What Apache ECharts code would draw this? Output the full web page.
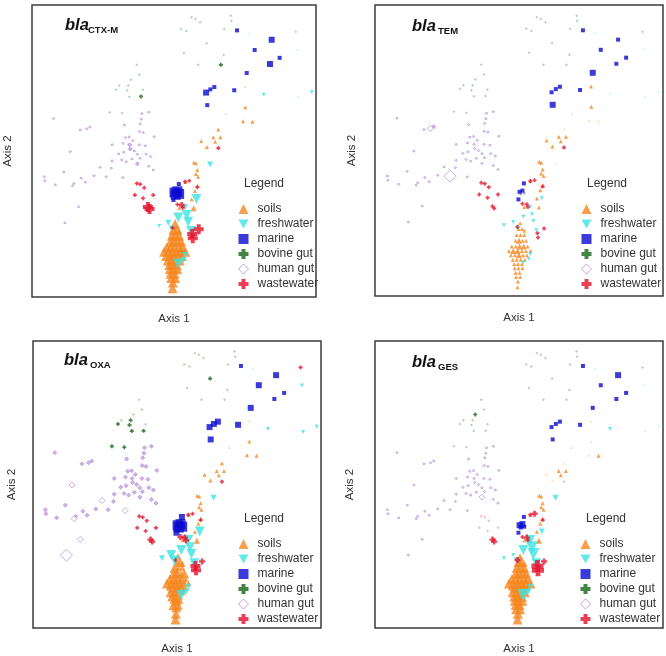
<!DOCTYPE html>
<html>
<head>
<meta charset="utf-8">
<script src="https://cdn.jsdelivr.net/npm/echarts@6.0.0/dist/echarts.min.js"></script>
<style>
html,body{margin:0;padding:0;background:#fff;}
#chart{width:666px;height:656px;}
</style>
</head>
<body>
<div id="chart"></div>
<script>
// ---------- shared ordination coordinates (Axis 1, Axis 2 scaled 0-100) ----------
const soilsXY = [
  [75.0,72.0],[75.1,65.0],[68.2,62.8],[74.3,60.2],[77.6,60.0],[65.6,57.4],[66.3,54.7],[63.8,54.7],[64.5,53.2],[59.6,53.4],
  [61.6,51.4],[57.0,46.1],[57.7,45.8],[58.2,43.5],[57.7,42.1],[58.5,41.2],[54.0,39.4],[58.3,38.1],[57.4,36.3],[56.2,33.5],
  [56.9,30.4],[51.9,30.6],[51.9,22.4],
  [50.4,25],[49.8,23],[51.0,23],[49.2,21],[50.5,21],[51.8,21],[48.8,19],[50.0,19],[51.3,19],[52.5,19],
  [47.5,17],[48.9,17],[50.2,17],[51.6,17],[53.0,17],[46.5,15.5],[48.0,15.5],[49.5,15.5],[51.0,15.5],[52.4,15.5],
  [54.0,15.5],[47.2,14],[48.6,14],[50.0,14],[51.4,14],[52.8,14],[47.8,12.5],[49.2,12.5],[50.6,12.5],[52.0,12.5],
  [48.3,11],[49.6,11],[51.0,11],[48.5,9.5],[49.8,9.5],[51.2,9.5],[48.8,8],[50.2,8],[49.0,6.5],[50.4,6.5],
  [49.6,5],[49.5,3]
];
const freshXY = [
  [76.4,90.1],[93.4,84.5],[81.6,69.3],[98.5,70.1],[93.8,68.3],[62.7,45.4],[57.9,33.6],[53.9,30.7],[54.5,28.1],[51.5,27.2],
  [55.0,25.8],[48.0,25.4],[44.8,24.3],[49.2,23.5],[56.0,22.6],[53.9,14.4],[53.3,12.7],[51.5,11.5]
];
const marineXY = [
  [72.2,91.3],[84.4,88.1],[78.4,84.6],[87.2,81.9],[83.8,79.8],[75.6,76.7],[64.2,71.9],[62.8,71.1],[61.3,70.0],[71.2,70.8],
  [61.7,65.7],[51.7,38.7],[50.2,35.8],[51.2,36.2],[50.6,35.0],[51.8,35.3],[49.8,33.2]
];
const bovineXY = [
  [56.2,95.8],[57.6,95.2],[59.2,94.1],[52.5,91.8],[54.3,91.1],[70.0,96.3],[70.2,94.5],[67.7,91.8],[61.5,86.9],[53.5,83.6],
  [67.5,82.9],[58.5,79.5],[66.5,79.5],
  [36.9,79.5],[37.8,76.1],[34.8,74.4],[30.7,72.4],[33.9,72.4],[29.5,71.1],[33.5,70.7],[39.1,71.0],[34.3,68.6],[38.4,68.7],
  [27.4,63.3],[31.7,63.0]
];
const humanXY = [
  [7.6,61.1],[38.7,62.8],[41.1,63.3],[38.5,60.9],[38.1,59.3],[20.4,58.2],[19.3,57.6],[17.0,57.2],[32.5,58.9],[37.9,56.6],
  [39.2,56.3],[43.0,54.9],[34.2,54.8],[32.9,54.6],[32.1,52.6],[34.4,52.1],[28.2,52.1],[37.8,52.1],[39.9,51.8],[34.6,50.7],
  [32.3,49.6],[13.5,49.8],[37.1,48.9],[40.2,48.9],[35.2,47.3],[41.8,48.1],[28.2,46.6],[31.6,46.9],[33.2,46.3],[37.1,45.6],
  [41.1,44.8],[24.0,44.4],[27.9,44.1],[42.7,43.5],[11.2,42.8],[21.8,41.5],[26.1,41.2],[32.0,40.9],[4.3,41.2],[4.5,39.8],
  [17.3,40.7],[18.8,39.3],[14.8,38.9],[14.3,38.1],[8.2,38.4],[16.4,30.9],[11.6,25.4],[35.5,53.5],[36.0,50.0],[30.5,49.0],
  [38.0,47.5]
];
const wasteXY = [
  [36.9,38.9],[38.1,38.6],[39.5,37.4],[36.2,34.9],[39.1,33.8],[42.7,34.9],[41.4,30.1],[65.6,51.0],[55.4,39.8],[53.9,39.5],
  [58.2,37.6],[51.2,31.7],[52.7,31.5],[53.1,30.6],[49.5,23.7],[58.7,23.2],[56.6,20.1],[92.9,90.8],[40.8,30.8],[56.4,21.6]
];

// ---------- gene abundance class per sample (0 = trace ... 4 = highest), one list per gene ----------
const soilsCTX = [0,1,0,1,1,1,1,1,1,1, 1,1,1,1,1,1,1,1,1,1, 2,1,2,
  3,3,3,3,3,3,3,3,3,3, 3,3,3,3,3,3,3,3,3,3, 3,3,3,3,3,3,3,3,3,3, 3,3,3,3,3,3,3,3,3,3, 3,3];
const soilsTEM = [1,1,0,0,0,0,1,1,1,1, 1,1,1,1,1,1,1,1,1,1, 1,1,1,
  1,1,1,1,1,1,1,2,1,1, 1,1,2,2,1,1,2,2,1,1, 1,1,1,2,1,1,1,1,1,1, 1,1,1,1,1,1,1,1,1,1, 1,1];
const soilsOXA = [0,1,0,1,1,1,1,1,1,1, 1,1,1,1,1,1,1,1,1,1, 2,1,2,
  2,2,3,3,2,2,3,3,2,3, 3,3,3,3,2,3,3,3,3,2, 2,2,3,3,3,2,3,3,2,2, 3,3,2,2,3,2,3,3,2,2, 3,3];
const soilsGES = [0,0,0,0,1,0,1,1,1,0, 0,1,1,1,1,1,1,1,1,1, 2,1,2,
  2,3,3,3,3,3,3,3,3,3, 3,3,3,3,3,3,3,3,3,3, 3,2,3,3,3,2,3,3,3,3, 3,3,3,3,3,3,3,3,3,3, 3,3];

const freshCTX = [0,0,1,1,0,2,3,2,3,3,3,2,1,2,3,2,2,3];
const freshTEM = [0,0,0,0,0,0,1,1,1,1,1,1,1,1,1,1,1,1];
const freshOXA = [0,1,1,1,1,2,3,3,3,3,3,3,2,3,3,2,2,3];
const freshGES = [0,0,1,0,0,2,2,3,4,3,4,1,1,2,3,2,2,4];

const marineCTX = [1,2,1,1,2,1,1,1,2,1,1,1,3,3,3,3,1];
const marineTEM = [1,1,1,1,1,2,1,1,1,1,2,1,1,1,0,0,1];
const marineOXA = [1,2,2,1,1,2,2,2,2,2,2,2,3,3,3,3,2];
const marineGES = [1,2,1,1,1,1,1,1,1,1,1,1,2,2,1,1,1];

const bovineCTX = [0,0,0,0,0,0,0,0,0,0, 0,0,1, 0,0,0,0,0,0,0,0,0,1, 0,0];
const bovineTEM = [0,0,0,0,0,0,0,0,0,0, 0,0,0, 0,0,0,0,0,0,0,0,0,0, 0,0];
const bovineOXA = [0,0,0,0,0,0,0,0,1,0, 0,0,0, 0,0,0,0,1,1,1,0,1,1, 1,1];
const bovineGES = [0,0,0,0,0,0,0,0,0,0, 0,0,0, 0,0,1,0,0,0,0,0,0,0, 0,0];

const humanCTX = [0,0,0,0,0,0,0,0,0,0, 0,0,0,0,0,1,0,0,0,1, 0,0,0,0,0,0,0,0,0,1, 0,0,0,0,0,0,0,0,0,0, 0,0,0,0,0,0,0,0,0,0, 0];
const humanTEM = [0,0,0,0,0,1,2,0,0,0, 0,0,0,0,0,0,0,0,0,0, 0,0,0,0,0,0,0,0,0,0, 0,0,0,0,0,0,4,0,0,0, 0,0,0,0,0,0,0,0,0,0, 0];
const humanOXA = [1,1,1,1,1,1,1,1,1,1, 1,1,1,1,1,1,1,1,1,1, 1,2,1,1,1,1,1,1,1,1, 1,2,1,1,1,1,1,2,1,1, 1,1,1,2,1,2,4,1,1,1, 1];
const humanGES = [0,0,0,0,0,0,0,0,0,0, 0,0,0,0,0,0,0,0,0,0, 0,0,0,0,0,0,0,0,0,2, 0,0,0,0,0,0,0,0,0,0, 0,0,0,0,0,0,0,0,0,0, 0];

const wasteCTX = [1,1,1,1,1,1,3,1,1,1,1,1,2,1,1,3,3,0,3,3];
const wasteTEM = [1,1,1,1,1,1,1,1,1,1,1,1,1,1,1,1,1,0,1,1];
const wasteOXA = [1,1,1,1,1,1,2,1,1,1,1,2,2,2,1,2,3,1,2,3];
const wasteGES = [0,0,0,0,0,0,2,0,2,1,1,1,2,1,2,2,4,0,2,4];

const panelGenes = ['CTX-M','TEM','OXA','GES'];
const groupNames = ['soils','freshwater','marine','bovine gut','human gut','wastewater'];

// ---------- styling ----------
const FONT = 'Liberation Sans';
const SIZES = [2.5, 4, 6, 10, 12];
const PANELS = [
  {left:32, top:5, width:284, height:292, xGap:16, yGap:18, legL:238, legT:202, titL:65, titT:17, subL:88, subT:25},
  {left:375, top:5, width:288, height:291, xGap:16, yGap:17, legL:581, legT:202, titL:412, titT:18, subL:438, subT:26},
  {left:33, top:341, width:288, height:290, xGap:15, yGap:15, legL:238, legT:537, titL:64, titT:352, subL:90, subT:360},
  {left:375, top:341, width:288, height:290, xGap:15, yGap:19, legL:580, legT:537, titL:412, titT:354, subL:438, subT:362}
];
const CROSS = 'path://M3,0 H7 V3 H10 V7 H7 V10 H3 V7 H0 V3 H3 Z';
const GROUP_STYLE = {
  'soils':      {symbol:'triangle', rot:0,   rgb:[245,135,31]},
  'freshwater': {symbol:'triangle', rot:180, rgb:[61,227,227]},
  'marine':     {symbol:'rect',     rot:0,   rgb:[10,10,207]},
  'bovine gut': {symbol:CROSS,      rot:0,   rgb:[20,100,20]},
  'human gut':  {symbol:'diamond',  rot:0,   rgb:[176,138,214], hollow:true},
  'wastewater': {symbol:CROSS,      rot:0,   rgb:[227,16,42]}
};
const rgba = (c,a) => `rgba(${c[0]},${c[1]},${c[2]},${a})`;

const XY = {'soils':soilsXY,'freshwater':freshXY,'marine':marineXY,'bovine gut':bovineXY,'human gut':humanXY,'wastewater':wasteXY};
const ABUND = [
  {'soils':soilsCTX,'freshwater':freshCTX,'marine':marineCTX,'bovine gut':bovineCTX,'human gut':humanCTX,'wastewater':wasteCTX},
  {'soils':soilsTEM,'freshwater':freshTEM,'marine':marineTEM,'bovine gut':bovineTEM,'human gut':humanTEM,'wastewater':wasteTEM},
  {'soils':soilsOXA,'freshwater':freshOXA,'marine':marineOXA,'bovine gut':bovineOXA,'human gut':humanOXA,'wastewater':wasteOXA},
  {'soils':soilsGES,'freshwater':freshGES,'marine':marineGES,'bovine gut':bovineGES,'human gut':humanGES,'wastewater':wasteGES}
];
const DRAW_ORDER = ['human gut','bovine gut','soils','marine','freshwater','wastewater'];

const grids=[], xAxes=[], yAxes=[], series=[], titles=[], legends=[];
PANELS.forEach((P,g)=>{
  grids.push({left:P.left, top:P.top, width:P.width, height:P.height, show:true,
    borderColor:'#3c3c3c', borderWidth:1.5, backgroundColor:'#fff'});
  const axisCommon = {min:0, max:100, axisLine:{show:false}, axisTick:{show:false},
    axisLabel:{show:false}, splitLine:{show:false}, nameLocation:'middle',
    nameTextStyle:{fontFamily:FONT, fontSize:11.5, color:'#333'}};
  xAxes.push(Object.assign({}, axisCommon, {type:'value', gridIndex:g, name:'Axis 1', nameGap:P.xGap}));
  yAxes.push(Object.assign({}, axisCommon, {type:'value', gridIndex:g, name:'Axis 2', nameGap:P.yGap}));

  DRAW_ORDER.forEach(name=>{
    const st = GROUP_STYLE[name];
    const A = ABUND[g][name];
    const data = XY[name].map((p,i)=>[p[0], p[1], A[i]]);
    series.push({
      type:'scatter', name, xAxisIndex:g, yAxisIndex:g, data,
      symbol:st.symbol, symbolRotate:st.rot,
      symbolSize: v => SIZES[v[2]],
      itemStyle: st.hollow ? {
        color: p => p.data[2] >= 2 ? '#ffffff' : rgba(st.rgb, p.data[2]===0 ? 0.45 : 0.8),
        borderColor: rgba(st.rgb, 0.85), borderWidth:1
      } : {
        color: p => rgba(st.rgb, p.data[2]===0 ? 0.4 : 1)
      },
      emphasis:{disabled:true}, animation:false, silent:true
    });
  });

  titles.push({text:'bla', left:P.titL, top:P.titT, padding:0,
    textStyle:{fontFamily:FONT, fontSize:16.5, fontStyle:'italic', fontWeight:'bold', color:'#111'}});
  titles.push({text:panelGenes[g], left:P.subL, top:P.subT, padding:0,
    textStyle:{fontFamily:FONT, fontSize:9.5, fontWeight:'bold', color:'#111'}});
  titles.push({text:'Legend', left:P.legL+6, top:P.legT-24, padding:0,
    textStyle:{fontFamily:FONT, fontSize:12, fontWeight:'normal', color:'#333'}});

  legends.push({
    orient:'vertical', left:P.legL, top:P.legT, padding:0, itemWidth:10, itemHeight:10, itemGap:1,
    selectedMode:false,
    textStyle:{fontFamily:FONT, fontSize:12, color:'#333', lineHeight:14, padding:[0,0,0,4]},
    data: groupNames.map(n=>{
      const st = GROUP_STYLE[n];
      let icon = st.symbol;
      if (n==='freshwater') icon = 'path://M0,0 L10,0 L5,9 Z';
      const itemStyle = st.hollow ? {color:'#fff', borderColor:rgba(st.rgb,1), borderWidth:1}
                                  : {color:rgba(st.rgb,1), borderWidth:0};
      return {name:n, icon, itemStyle};
    })
  });
});

const chart = echarts.init(document.getElementById('chart'), null, {renderer:'canvas'});
chart.setOption({
  backgroundColor:'#fff',
  animation:false,
  title:titles,
  legend:legends,
  grid:grids,
  xAxis:xAxes,
  yAxis:yAxes,
  series:series
});
</script>
</body>
</html>
